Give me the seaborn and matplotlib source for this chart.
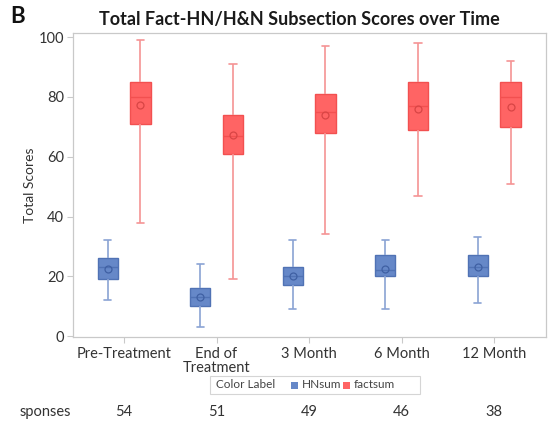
import matplotlib
matplotlib.use("Agg")
import matplotlib.pyplot as plt
from matplotlib.colors import to_hex
from matplotlib.patches import Rectangle
import pandas as pd
import seaborn as sns

# ---- data -------------------------------------------------------------
periods = ["Pre-Treatment", "End of\nTreatment", "3 Month", "6 Month", "12 Month"]
series = ["HNsum", "factsum"]
responses = [54, 51, 49, 46, 38]

# five-number summaries (min, Q1, median, Q3, max) and means
hn_min = [12, 3, 9, 9, 11]
hn_q1 = [19, 10, 17, 20, 20]
hn_med = [23, 13, 20, 22, 23]
hn_q3 = [26, 16, 23, 27, 27]
hn_max = [32, 24, 32, 32, 33]
hn_mean = [22.6, 13.2, 20.0, 22.3, 23.0]

fact_min = [38, 19, 34, 47, 51]
fact_q1 = [71, 61, 68, 69, 70]
fact_med = [80, 67, 75, 77, 80]
fact_q3 = [85, 74, 81, 85, 85]
fact_max = [99, 91, 97, 98, 92]
fact_mean = [77.3, 67.4, 74.0, 76.1, 76.7]

# ---- long tables for seaborn ------------------------------------------
summaries = {
    "HNsum": (hn_min, hn_q1, hn_med, hn_q3, hn_max),
    "factsum": (fact_min, fact_q1, fact_med, fact_q3, fact_max),
}
rows = []
for name, stats in summaries.items():
    for i, period in enumerate(periods):
        for arr in stats:
            rows.append({"period": period, "series": name, "score": arr[i]})
box_df = pd.DataFrame(rows)

mean_df = pd.DataFrame(
    [{"period": p, "series": "HNsum", "score": m} for p, m in zip(periods, hn_mean)]
    + [{"period": p, "series": "factsum", "score": m} for p, m in zip(periods, fact_mean)]
)

# ---- styling ----------------------------------------------------------
sns.set_theme(style="white")
plt.rcParams["font.family"] = ["Lato", "DejaVu Sans"]

fill = {"HNsum": "#6688c8", "factsum": "#ff6464"}
edge = {"HNsum": "#5072b4", "factsum": "#f25050"}
whisk = {"HNsum": "#8aa3d3", "factsum": "#f59494"}
cap = {"HNsum": "#8aa3d4", "factsum": "#f59495"}
mean_col = {"HNsum": "#3f60a3", "factsum": "#d84545"}
text_col = "#333333"
frame_col = "#c9c9c9"

fig = plt.figure(figsize=(5.48, 4.25), dpi=100)
ax = fig.add_axes([0.1323, 0.207, 0.8641, 0.7146])

for name in series:
    sns.boxplot(
        data=box_df[box_df["series"] == name], x="period", y="score",
        hue="series", hue_order=series, order=periods,
        palette=fill, saturation=1, dodge=True, width=0.712, gap=0.39,
        whis=(0, 100), linecolor=edge[name], linewidth=1.0,
        whiskerprops={"color": whisk[name], "linewidth": 1.2},
        capprops={"color": cap[name], "linewidth": 1.2},
        medianprops={"color": edge[name], "linewidth": 1.0},
        showfliers=False, legend=False, ax=ax,
    )

# shorten the whisker caps to about half the box width
cap_hex = set(cap.values())
for line in ax.lines:
    if to_hex(line.get_color()) in cap_hex:
        xs = list(line.get_xdata())
        mid = (xs[0] + xs[-1]) / 2
        half = abs(xs[-1] - xs[0]) / 2 * 0.7
        line.set_xdata([mid - half, mid + half])

n_before = len(ax.lines)
sns.pointplot(
    data=mean_df, x="period", y="score", hue="series", hue_order=series,
    order=periods, palette=mean_col, dodge=0.356, errorbar=None,
    markers="o", linestyles="none", legend=False, ax=ax,
    markersize=5, markeredgewidth=0.9,
)
for line in ax.lines[n_before:]:
    line.set_markerfacecolor("none")
    line.set_zorder(5)

# ---- axes -------------------------------------------------------------
ax.set_xlim(-0.557, 4.562)
ax.set_ylim(-0.3, 101.3)
ax.set_yticks([0, 20, 40, 60, 80, 100])
ax.set_xlabel("")
ax.set_ylabel("Total Scores", fontsize=10, color=text_col, labelpad=2)
ax.tick_params(axis="both", which="major", direction="out", length=4,
               width=0.8, color=frame_col, labelsize=10.5, labelcolor=text_col,
               left=True, bottom=True, pad=2)
ax.tick_params(axis="x", pad=3)
for lbl in ax.get_xticklabels():
    lbl.set_linespacing(1.05)
for sp in ax.spines.values():
    sp.set_color(frame_col)
    sp.set_linewidth(0.9)

# ---- titles -----------------------------------------------------------
fig.text(0.547, 0.955, "Total Fact-HN/H&N Subsection Scores over Time",
         ha="center", va="center", fontsize=13, fontweight="bold",
         color="#1a1a1a")
fig.text(0.018, 0.962, "B", ha="left", va="center", fontsize=16,
         fontweight="bold", color="#111111")

# ---- legend box -------------------------------------------------------
lx0, lx1, ly0, ly1 = 210 / 548, 420 / 548, 1 - 394 / 425, 1 - 376 / 425
fig.patches.append(Rectangle((lx0, ly0), lx1 - lx0, ly1 - ly0,
                             transform=fig.transFigure, facecolor="white",
                             edgecolor="#d5d5d5", linewidth=0.8))
ly = (ly0 + ly1) / 2
fig.text(216 / 548, ly, "Color Label", ha="left", va="center",
         fontsize=8.5, color="#444444")
sq = 7 / 548
for name, x0 in zip(series, [291 / 548, 343 / 548]):
    fig.patches.append(Rectangle((x0, ly - 3.5 / 425), sq, 7 / 425,
                                 transform=fig.transFigure,
                                 facecolor=fill[name], edgecolor="none"))
    fig.text(x0 + sq + 4 / 548, ly, name, ha="left", va="center",
             fontsize=8.5, color="#444444")

# ---- response counts row ----------------------------------------------
row_y = 1 - 412 / 425
fig.text(20 / 548, row_y, "sponses", ha="left", va="center", fontsize=10.5,
         color=text_col)
for i, n in enumerate(responses):
    xf = fig.transFigure.inverted().transform(ax.transData.transform((i, 0)))[0]
    fig.text(xf, row_y, str(n), ha="center", va="center", fontsize=10.5,
             color=text_col)

fig.savefig("out.png", dpi=100)
